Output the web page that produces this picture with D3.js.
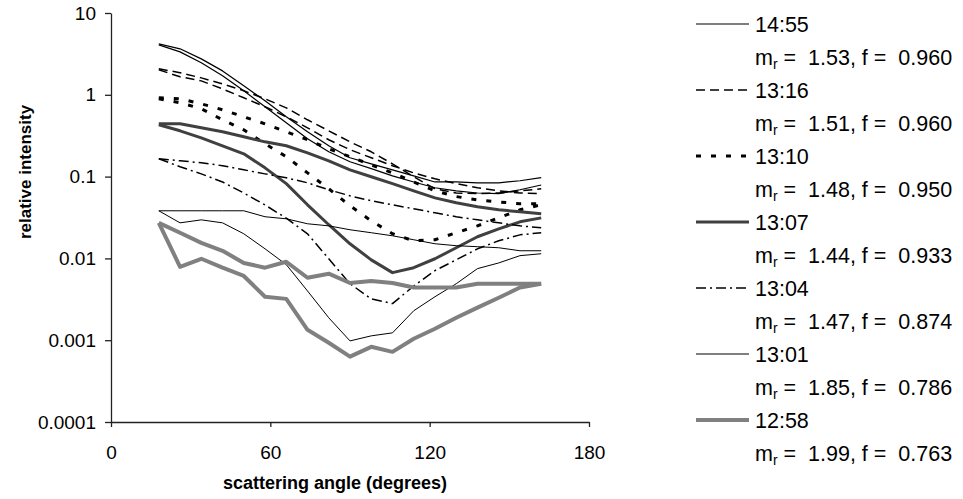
<!DOCTYPE html>
<html>
<head>
<meta charset="utf-8">
<script src="https://cdn.jsdelivr.net/npm/d3@7"></script>
<style>
  body { margin: 0; background: #fff; }
  svg { display: block; font-family: Arial, "Liberation Sans", sans-serif; }
</style>
</head>
<body>
<div id="chart"></div>
<script>
// scattering angles (degrees)
const angles = [18, 26, 34, 42, 50, 58, 66, 74, 82, 90, 98, 106, 114, 122, 130, 138, 146, 154, 162];

// two curves per time, relative intensity
const s1455a = [4.2, 3.65, 2.75, 1.96, 1.29, 0.845, 0.538, 0.353, 0.238, 0.17, 0.143, 0.121, 0.102, 0.086, 0.086, 0.084, 0.084, 0.089, 0.097];
const s1455b = [4.08, 3.35, 2.46, 1.71, 1.12, 0.714, 0.455, 0.29, 0.201, 0.152, 0.125, 0.102, 0.086, 0.073, 0.067, 0.063, 0.062, 0.069, 0.079];
const s1316a = [2.08, 1.86, 1.61, 1.36, 1.12, 0.894, 0.693, 0.495, 0.363, 0.266, 0.201, 0.143, 0.0995, 0.071, 0.063, 0.062, 0.063, 0.067, 0.071];
const s1316b = [2.02, 1.66, 1.48, 1.18, 0.919, 0.714, 0.538, 0.395, 0.282, 0.213, 0.17, 0.136, 0.111, 0.094, 0.082, 0.073, 0.067, 0.063, 0.062];
const s1310a = [0.919, 0.894, 0.776, 0.656, 0.538, 0.442, 0.353, 0.282, 0.219, 0.175, 0.139, 0.111, 0.086, 0.067, 0.057, 0.052, 0.049, 0.0465, 0.0465];
const s1310b = [0.894, 0.8, 0.674, 0.495, 0.373, 0.252, 0.175, 0.111, 0.071, 0.044, 0.0288, 0.02, 0.0164, 0.0169, 0.0206, 0.025, 0.0313, 0.0393, 0.0452];
const s1307a = [0.442, 0.442, 0.395, 0.353, 0.307, 0.266, 0.238, 0.195, 0.156, 0.121, 0.0995, 0.082, 0.067, 0.055, 0.0478, 0.0428, 0.0393, 0.0371, 0.0351];
const s1307b = [0.43, 0.363, 0.298, 0.238, 0.19, 0.128, 0.082, 0.0452, 0.0258, 0.0151, 0.0096, 0.0067, 0.0077, 0.0099, 0.0135, 0.0184, 0.023, 0.028, 0.0313];
const s1304a = [0.165, 0.156, 0.1475, 0.136, 0.121, 0.108, 0.0967, 0.084, 0.069, 0.0582, 0.0506, 0.0452, 0.0404, 0.0361, 0.0323, 0.0296, 0.0272, 0.025, 0.0237];
const s1304b = [0.165, 0.132, 0.108, 0.086, 0.063, 0.045, 0.031, 0.02, 0.0099, 0.0049, 0.0032, 0.0028, 0.0046, 0.0071, 0.0096, 0.0131, 0.0164, 0.0194, 0.0206];
const s1301a = [0.0382, 0.0382, 0.0382, 0.0382, 0.0382, 0.0323, 0.0305, 0.0265, 0.025, 0.0224, 0.0206, 0.0189, 0.0169, 0.0151, 0.0143, 0.0139, 0.0135, 0.0124, 0.0124];
const s1301b = [0.0382, 0.0272, 0.0296, 0.0272, 0.02, 0.0131, 0.0084, 0.004, 0.00188, 0.00098, 0.00113, 0.00123, 0.00229, 0.0034, 0.0049, 0.0075, 0.0088, 0.0108, 0.0114];
const s1258a = [0.0272, 0.0206, 0.0155, 0.0124, 0.0088, 0.0077, 0.0091, 0.0058, 0.0065, 0.005, 0.0053, 0.005, 0.0044, 0.0044, 0.0044, 0.0049, 0.0049, 0.0049, 0.0049];
const s1258b = [0.0272, 0.0079, 0.0099, 0.0077, 0.0061, 0.0034, 0.0032, 0.00134, 0.00093, 0.00063, 0.00083, 0.00072, 0.00104, 0.00138, 0.00188, 0.0025, 0.0033, 0.0044, 0.0049];

// legend text
const times = ["14:55", "13:16", "13:10", "13:07", "13:04", "13:01", "12:58"];
const mrValues = ["1.53", "1.51", "1.48", "1.44", "1.47", "1.85", "1.99"];
const fValues = ["0.960", "0.960", "0.950", "0.933", "0.874", "0.786", "0.763"];

// axis ticks
const xTicks = [0, 60, 120, 180];
const yTicks = [0.0001, 0.001, 0.01, 0.1, 1, 10];
const yTickLabels = ["0.0001", "0.001", "0.01", "0.1", "1", "10"];

const curves = [
  [s1455a, s1455b], [s1316a, s1316b], [s1310a, s1310b], [s1307a, s1307b],
  [s1304a, s1304b], [s1301a, s1301b], [s1258a, s1258b]
];

// line look for each time (same order as times)
const styles = [
  { stroke: "#000", width: 1.2, dash: null },
  { stroke: "#000", width: 1.5, dash: "9,5" },
  { stroke: "#000", width: 3, dash: "5,10" },
  { stroke: "#404040", width: 3, dash: null },
  { stroke: "#000", width: 1.5, dash: "10,4,2,4" },
  { stroke: "#000", width: 1, dash: null },
  { stroke: "#808080", width: 4, dash: null }
];

const width = 963, height = 499;
const margin = { top: 13, left: 111, bottom: 77, right: 374 };

const svg = d3.select("#chart").append("svg")
  .attr("width", width)
  .attr("height", height);

const x = d3.scaleLinear()
  .domain([0, 180])
  .range([margin.left, width - margin.right]);

const y = d3.scaleLog()
  .domain([0.0001, 10])
  .range([height - margin.bottom, margin.top]);

const line = d3.line()
  .x((d, i) => x(angles[i]))
  .y(d => y(d));

// axes
const xAxis = g => g
  .attr("transform", `translate(0,${height - margin.bottom})`)
  .call(d3.axisBottom(x).tickValues(xTicks).tickSize(5).tickPadding(19).tickSizeOuter(0))
  .call(g => g.selectAll("text").attr("font-size", 19).attr("fill", "#000").attr("font-family", null))
  .call(g => g.selectAll("line, path").attr("stroke", "#222").attr("stroke-width", 1.3));

const yAxis = g => g
  .attr("transform", `translate(${margin.left},0)`)
  .call(d3.axisLeft(y).tickValues(yTicks).tickFormat((d, i) => yTickLabels[i]).tickSize(6).tickPadding(9).tickSizeOuter(0))
  .call(g => g.selectAll("text").attr("font-size", 19).attr("fill", "#000").attr("font-family", null))
  .call(g => g.selectAll("line, path").attr("stroke", "#222").attr("stroke-width", 1.3));

svg.append("g").call(xAxis);
svg.append("g").call(yAxis);

// axis titles
svg.append("text")
  .attr("x", 335)
  .attr("y", 489)
  .attr("text-anchor", "middle")
  .attr("font-size", 18)
  .attr("font-weight", "bold")
  .text("scattering angle (degrees)");

svg.append("text")
  .attr("transform", "translate(31,172) rotate(-90)")
  .attr("text-anchor", "middle")
  .attr("font-size", 17)
  .attr("font-weight", "bold")
  .text("relative intensity");

// curves
curves.forEach((pair, k) => {
  const st = styles[k];
  svg.append("g")
    .attr("fill", "none")
    .attr("stroke", st.stroke)
    .attr("stroke-width", st.width)
    .attr("stroke-dasharray", st.dash)
    .attr("stroke-linejoin", "round")
  .selectAll("path")
  .data(pair)
  .join("path")
    .attr("d", line);
});

// legend
const legend = svg.append("g").attr("font-size", 21.5);
times.forEach((t, k) => {
  const st = styles[k];
  const y0 = 24 + 66 * k;
  legend.append("line")
    .attr("x1", 696).attr("x2", 749)
    .attr("y1", y0).attr("y2", y0)
    .attr("stroke", st.stroke)
    .attr("stroke-width", st.width)
    .attr("stroke-dasharray", st.dash);
  legend.append("text")
    .attr("x", 755).attr("y", y0 + 8)
    .text(t);
  const p = legend.append("text")
    .attr("x", 755).attr("y", y0 + 41)
    .style("white-space", "pre");
  p.append("tspan").text("m");
  p.append("tspan").attr("font-size", 14).attr("dy", 4).text("r");
  p.append("tspan").attr("dy", -4).text(` =  ${mrValues[k]}, f =  ${fValues[k]}`);
});
</script>
</body>
</html>
